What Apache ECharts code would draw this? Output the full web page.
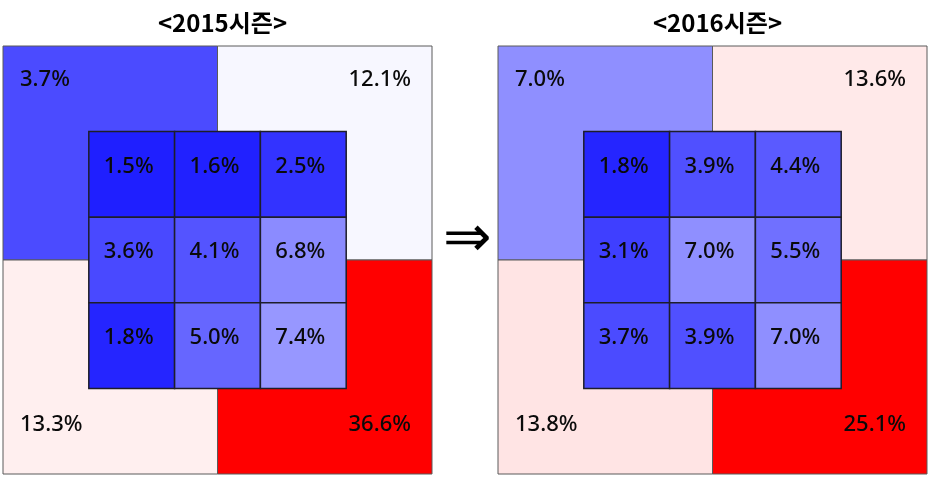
<!DOCTYPE html>
<html>
<head>
<meta charset="utf-8">
<script src="https://cdn.jsdelivr.net/npm/echarts@6/dist/echarts.min.js"></script>
<style>
html,body{margin:0;padding:0;background:#fff;}
#chart{width:930px;height:477px;}
</style>
</head>
<body>
<div id="chart"></div>
<script>
// ---- data ----
const seasonTitles = ['<2015시즌>', '<2016시즌>'];
const outerCols = ['L', 'R'];
const outerRows = ['T', 'B'];
const innerCols = ['1', '2', '3'];
const innerRows = ['1', '2', '3'];
// outer quadrants: [top-left, top-right, bottom-left, bottom-right]
const outer2015 = [3.7, 12.1, 13.3, 36.6];
const outer2016 = [7.0, 13.6, 13.8, 25.1];
// inner 3x3 zone, row by row from top
const inner2015 = [
  [1.5, 1.6, 2.5],
  [3.6, 4.1, 6.8],
  [1.8, 5.0, 7.4]
];
const inner2016 = [
  [1.8, 3.9, 4.4],
  [3.1, 7.0, 5.5],
  [3.7, 3.9, 7.0]
];

function outerData(arr) {
  const d = [];
  arr.forEach((v, i) => d.push([i % 2, Math.floor(i / 2), v]));
  return d;
}
function innerData(rows) {
  const d = [];
  rows.forEach((r, ri) => r.forEach((v, ci) => d.push([ci, ri, v])));
  return d;
}

const FONT = '"Noto Sans", "Noto Sans CJK KR", sans-serif';
const TFONT = '"Noto Sans CJK KR", "Noto Sans", sans-serif';

function renderOuter(params, api) {
  const col = api.value(0), row = api.value(1);
  const c = api.coord([col, row]);
  const s = api.size([1, 1]);
  const x0 = c[0] - s[0] / 2, y0 = c[1] - s[1] / 2;
  const tx = col === 0 ? x0 + 17 : x0 + s[0] - 21;
  const ty = row === 0 ? y0 + 34 : y0 + s[1] - 49;
  return {
    type: 'group',
    children: [
      { type: 'rect', shape: { x: x0, y: y0, width: s[0], height: s[1] },
        style: { fill: api.visual('color'), stroke: '#5a5a5a', lineWidth: 1 } },
      { type: 'text', style: { text: api.value(2).toFixed(1) + '%', x: tx, y: ty,
        align: col === 0 ? 'left' : 'right', verticalAlign: 'middle',
        fill: '#0a0a0a', fontSize: 22, fontWeight: 500, fontFamily: FONT } }
    ]
  };
}
function renderInner(params, api) {
  const col = api.value(0), row = api.value(1);
  const c = api.coord([col, row]);
  const s = api.size([1, 1]);
  const x0 = c[0] - s[0] / 2, y0 = c[1] - s[1] / 2;
  return {
    type: 'group',
    children: [
      { type: 'rect', shape: { x: x0, y: y0, width: s[0], height: s[1] },
        style: { fill: api.visual('color'), stroke: '#1e1e2a', lineWidth: 1.5 } },
      { type: 'text', style: { text: api.value(2).toFixed(1) + '%', x: c[0] - 3, y: c[1] - 8,
        align: 'center', verticalAlign: 'middle',
        fill: '#0a0a0a', fontSize: 22, fontWeight: 500, fontFamily: FONT } }
    ]
  };
}

const panels = [
  { left: 3, outer: outer2015, inner: inner2015 },
  { left: 498, outer: outer2016, inner: inner2016 }
];
const OW = 429, OH = 428, TOP = 46;

const grids = [], xAxes = [], yAxes = [], series = [];
panels.forEach((p, i) => {
  grids.push({ left: p.left, top: TOP, width: OW, height: OH });
  grids.push({ left: p.left + OW / 5, top: TOP + OH / 5, width: OW * 3 / 5, height: OH * 3 / 5 });
  xAxes.push({ type: 'category', data: outerCols, gridIndex: i * 2, show: false });
  yAxes.push({ type: 'category', data: outerRows, gridIndex: i * 2, show: false, inverse: true });
  xAxes.push({ type: 'category', data: innerCols, gridIndex: i * 2 + 1, show: false });
  yAxes.push({ type: 'category', data: innerRows, gridIndex: i * 2 + 1, show: false, inverse: true });
  series.push({ type: 'custom', xAxisIndex: i * 2, yAxisIndex: i * 2, z: 2,
    renderItem: renderOuter, data: outerData(p.outer), encode: { x: 0, y: 1 } });
  series.push({ type: 'custom', xAxisIndex: i * 2 + 1, yAxisIndex: i * 2 + 1, z: 3,
    renderItem: renderInner, data: innerData(p.inner), encode: { x: 0, y: 1 } });
});

const chart = echarts.init(document.getElementById('chart'), null, { renderer: 'canvas' });
chart.setOption({
  animation: false,
  backgroundColor: '#fff',
  title: seasonTitles.map((t, i) => ({
    text: t, left: panels[i].left + OW / 2, top: 6, textAlign: 'center',
    textStyle: { fontSize: 24, fontWeight: 'bold', color: '#000', fontFamily: TFONT }
  })),
  visualMap: {
    type: 'continuous', show: false, min: 0, max: 25, dimension: 2,
    seriesIndex: [0, 1, 2, 3],
    inRange: { color: ['#0000ff', '#ffffff', '#ff0000'] }
  },
  grid: grids,
  xAxis: xAxes,
  yAxis: yAxes,
  series: series,
  graphic: [{
    type: 'text', left: 443, top: 212,
    style: { text: '⇒', fontSize: 58, fill: '#000', fontFamily: '"DejaVu Sans", sans-serif' }
  }]
});
</script>
</body>
</html>
